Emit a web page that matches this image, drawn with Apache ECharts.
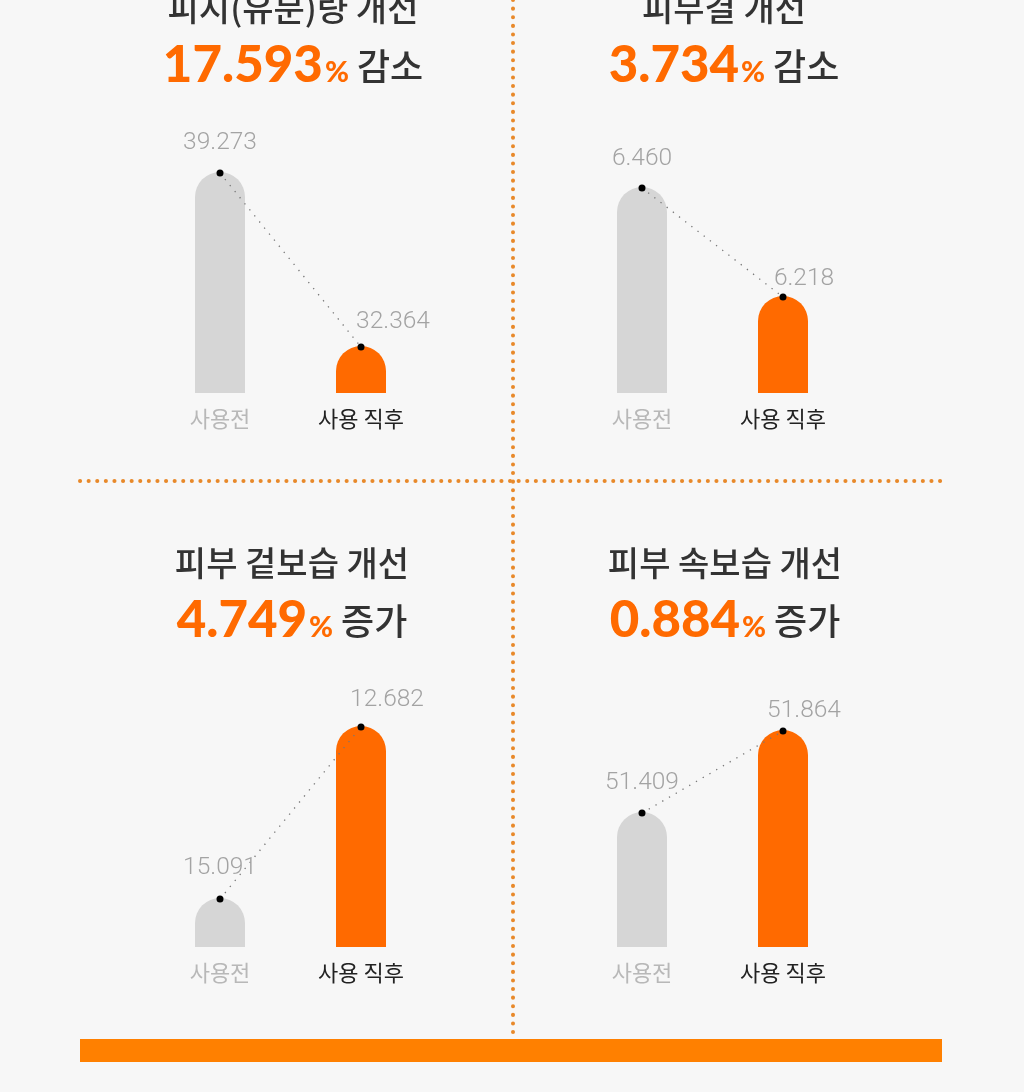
<!DOCTYPE html>
<html>
<head>
<meta charset="utf-8">
<script src="https://cdn.jsdelivr.net/npm/echarts@6/dist/echarts.min.js"></script>
<style>
  html, body { margin: 0; padding: 0; background: #f7f7f7; }
  #main { width: 1024px; height: 1092px; }
</style>
</head>
<body>
<div id="main"></div>
<script>
// 데이터
var categories = ['사용전', '사용 직후'];
var panelNames = ['피지(유분)량 개선', '피부결 개선', '피부 겉보습 개선', '피부 속보습 개선'];
var changeRates = ['17.593', '3.734', '4.749', '0.884'];
var changeWords = ['감소', '감소', '증가', '증가'];
var beforeValues = [39.273, 6.460, 15.091, 51.409];
var afterValues = [32.364, 6.218, 12.682, 51.864];

// 패널 배치
var grids = [
  { left: 149.5, top: 173, width: 282, height: 220 },
  { left: 571.5, top: 188, width: 282, height: 205 },
  { left: 149.5, top: 727, width: 282, height: 220 },
  { left: 571.5, top: 731, width: 282, height: 216 }
];
var yRanges = [
  { min: 30.54, max: 39.273, inverse: false },
  { min: 6.005, max: 6.460, inverse: false },
  { min: 12.682, max: 15.763, inverse: true },
  { min: 50.667, max: 51.864, inverse: false }
];
var titleX = [293, 724, 292, 725];
var titleY = [8, 8, 563, 563];
var rateY = [66, 66, 621, 621];
// 라벨 위치 [dx, 점과의 간격]
var labelShift = [
  [[0, 32], [32, 27]],
  [[0, 31], [21, 20]],
  [[0, 33], [26, 29]],
  [[0, 32], [21, 22]]
];

var barColors = ['#d6d6d6', '#ff6a00'];
var myChart = echarts.init(document.getElementById('main'));

function renderBar(params, api) {
  var pt = api.coord([api.value(0), api.value(1)]);
  var cs = params.coordSys;
  var bottom = cs.y + cs.height;
  var w = 50;
  return {
    type: 'rect',
    shape: { x: pt[0] - w / 2, y: pt[1] - 1, width: w, height: bottom - pt[1] + 1, r: [w / 2, w / 2, 0, 0] },
    style: { fill: barColors[params.dataIndex] }
  };
}

var xAxes = [], yAxes = [], series = [], graphics = [];

grids.forEach(function (g, i) {
  xAxes.push({
    type: 'category',
    gridIndex: i,
    data: categories,
    axisLine: { show: false },
    axisTick: { show: false },
    axisLabel: {
      margin: 15,
      fontSize: 22,
      fontFamily: 'Noto Sans CJK KR',
      color: function (v, idx) { return idx === 0 ? '#b8b8b8' : '#222222'; }
    }
  });
  yAxes.push({
    type: 'value',
    gridIndex: i,
    min: yRanges[i].min,
    max: yRanges[i].max,
    inverse: yRanges[i].inverse,
    show: false
  });
  var vals = [beforeValues[i], afterValues[i]];
  series.push({
    type: 'custom',
    xAxisIndex: i,
    yAxisIndex: i,
    renderItem: renderBar,
    data: vals.map(function (v, k) { return [k, v]; }),
    z: 1
  });
  series.push({
    type: 'line',
    xAxisIndex: i,
    yAxisIndex: i,
    symbol: 'circle',
    symbolSize: 7,
    itemStyle: { color: '#000' },
    lineStyle: { color: '#777', width: 1.3, type: [1.3, 6.5] },
    z: 3,
    data: vals.map(function (v, k) {
      var s = labelShift[i][k];
      return {
        value: [k, v],
        label: {
          show: true,
          position: 'top',
          distance: 5,
          offset: [s[0], -(s[1] - 23)],
          formatter: v.toFixed(3),
          fontSize: 24.5,
          fontFamily: 'Roboto',
          fontWeight: 300,
          color: '#a3a3a3'
        }
      };
    })
  });
  graphics.push({
    type: 'text',
    x: titleX[i],
    y: titleY[i],
    style: {
      text: panelNames[i],
      fontSize: 34,
      fontWeight: 500,
      fontFamily: 'Noto Sans CJK KR',
      fill: '#333',
      textAlign: 'center',
      textVerticalAlign: 'middle'
    }
  });
  graphics.push({
    type: 'text',
    x: titleX[i],
    y: rateY[i],
    style: {
      text: '{n|' + changeRates[i] + '}{p|%}{w|' + changeWords[i] + '}',
      textAlign: 'center',
      textVerticalAlign: 'middle',
      rich: {
        n: { fontSize: 51, fontWeight: 900, fontFamily: 'Lato', fill: '#ff6a00', color: '#ff6a00' },
        p: { fontSize: 29, fontWeight: 900, fontFamily: 'Lato', fill: '#ff6a00', color: '#ff6a00', padding: [14, 0, 0, 2] },
        w: { fontSize: 36, fontWeight: 500, fontFamily: 'Noto Sans CJK KR', fill: '#333', color: '#333', padding: [0, 0, 0, 8] }
      }
    }
  });
});

// 구분선
graphics.push({
  type: 'line',
  shape: { x1: 80, y1: 481, x2: 942, y2: 481 },
  style: { stroke: '#e8892a', lineWidth: 4, lineDash: [0.1, 8.5], lineCap: 'round' }
});
graphics.push({
  type: 'line',
  shape: { x1: 513, y1: 0, x2: 513, y2: 1039 },
  style: { stroke: '#e8892a', lineWidth: 4, lineDash: [0.1, 8.5], lineCap: 'round' }
});
graphics.push({
  type: 'rect',
  shape: { x: 80, y: 1039, width: 862, height: 23 },
  style: { fill: '#ff8000' }
});

var option = {
  backgroundColor: '#f7f7f7',
  animation: false,
  grid: grids,
  xAxis: xAxes,
  yAxis: yAxes,
  series: series,
  graphic: graphics
};
myChart.setOption(option);
</script>
</body>
</html>
